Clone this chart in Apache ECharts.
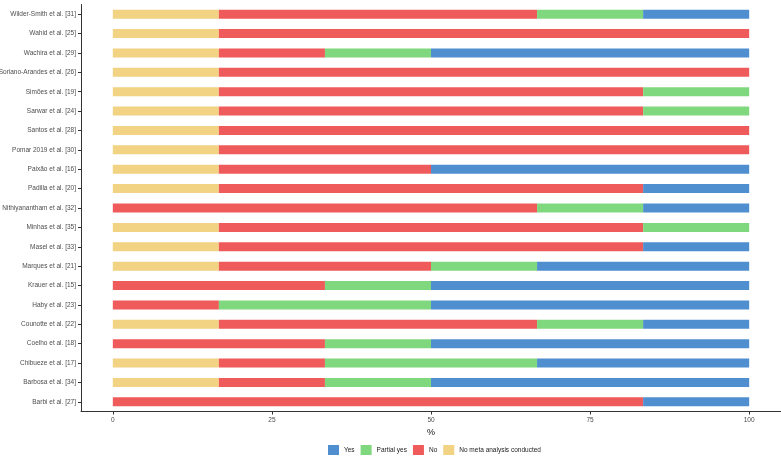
<!DOCTYPE html>
<html><head><meta charset="utf-8">
<script src="https://cdn.jsdelivr.net/npm/echarts@6/dist/echarts.min.js"></script>
<style>html,body{margin:0;padding:0;background:#fff}#c{width:781px;height:456px}</style>
</head><body><div id="c"></div>
<script>
const categories = ["Wilder-Smith et al. [31]","Wahid et al. [25]","Wachira et al. [29]","Soriano-Arandes et al. [26]","Simões et al. [19]","Sarwar et al. [24]","Santos et al. [28]","Pomar 2019 et al. [30]","Paixão et al. [16]","Padilla et al. [20]","Nithiyanantham et al. [32]","Minhas et al. [35]","Masel et al. [33]","Marques et al. [21]","Krauer et al. [15]","Haby et al. [23]","Counotte et al. [22]","Coelho et al. [18]","Chibueze et al. [17]","Barbosa et al. [34]","Barbi et al. [27]"];
const s = 100/6;
const noMeta  = [s,s,s,s,s,s,s,s,s,s,0,s,s,s,0,0,s,0,s,s,0];
const no      = [3*s,5*s,s,5*s,4*s,4*s,5*s,5*s,2*s,4*s,4*s,4*s,4*s,2*s,2*s,s,3*s,2*s,s,s,5*s];
const partial = [s,0,s,0,s,s,0,0,0,0,s,s,0,s,s,2*s,s,s,2*s,s,0];
const yes     = [s,0,3*s,0,0,0,0,0,3*s,s,s,0,s,2*s,3*s,3*s,s,3*s,2*s,3*s,s];
const xTicks = [0,25,50,75,100];

const colors = {yes:'#4f8fd0', partial:'#80d87e', no:'#ef5b5b', noMeta:'#f2d283'};
const mk = (name, data, color) => ({name, type:'bar', stack:'t', data, barWidth:9,
  itemStyle:{color}, emphasis:{disabled:true}});

const chart = echarts.init(document.getElementById('c'));
chart.setOption({
  animation:false,
  textStyle:{fontFamily:'Liberation Sans, Arial, sans-serif'},
  grid:{left:81, right:0, top:4.5, bottom:44.5, containLabel:false, outerBoundsMode:'none'},
  legend:{
    data:['Yes','Partial yes','No','No meta analysis conducted'],
    top:445, left:328, padding:0, itemWidth:11, itemHeight:10, itemGap:6,
    icon:'rect',
    textStyle:{fontSize:6.5, color:'#222'}
  },
  xAxis:{
    type:'value', min:-5, max:105, name:'%', nameLocation:'middle', nameGap:10,
    nameTextStyle:{fontSize:9, color:'#111'},
    axisLine:{show:true, onZero:false, lineStyle:{color:'#333', width:1}},
    axisTick:{show:true, customValues:xTicks, length:3, lineStyle:{color:'#333'}},
    axisLabel:{customValues:xTicks, fontSize:6.5, color:'#4d4d4d', margin:5},
    splitLine:{show:false}
  },
  yAxis:{
    type:'category', data:categories, inverse:true,
    axisLine:{show:true, onZero:false, lineStyle:{color:'#333', width:1}},
    axisTick:{show:true, alignWithLabel:true, length:3, lineStyle:{color:'#333'}},
    axisLabel:{fontSize:6.5, color:'#4d4d4d', margin:5},
    splitLine:{show:false}
  },
  series:[
    mk('No meta analysis conducted', noMeta, colors.noMeta),
    mk('No', no, colors.no),
    mk('Partial yes', partial, colors.partial),
    mk('Yes', yes, colors.yes)
  ]
});
</script></body></html>
